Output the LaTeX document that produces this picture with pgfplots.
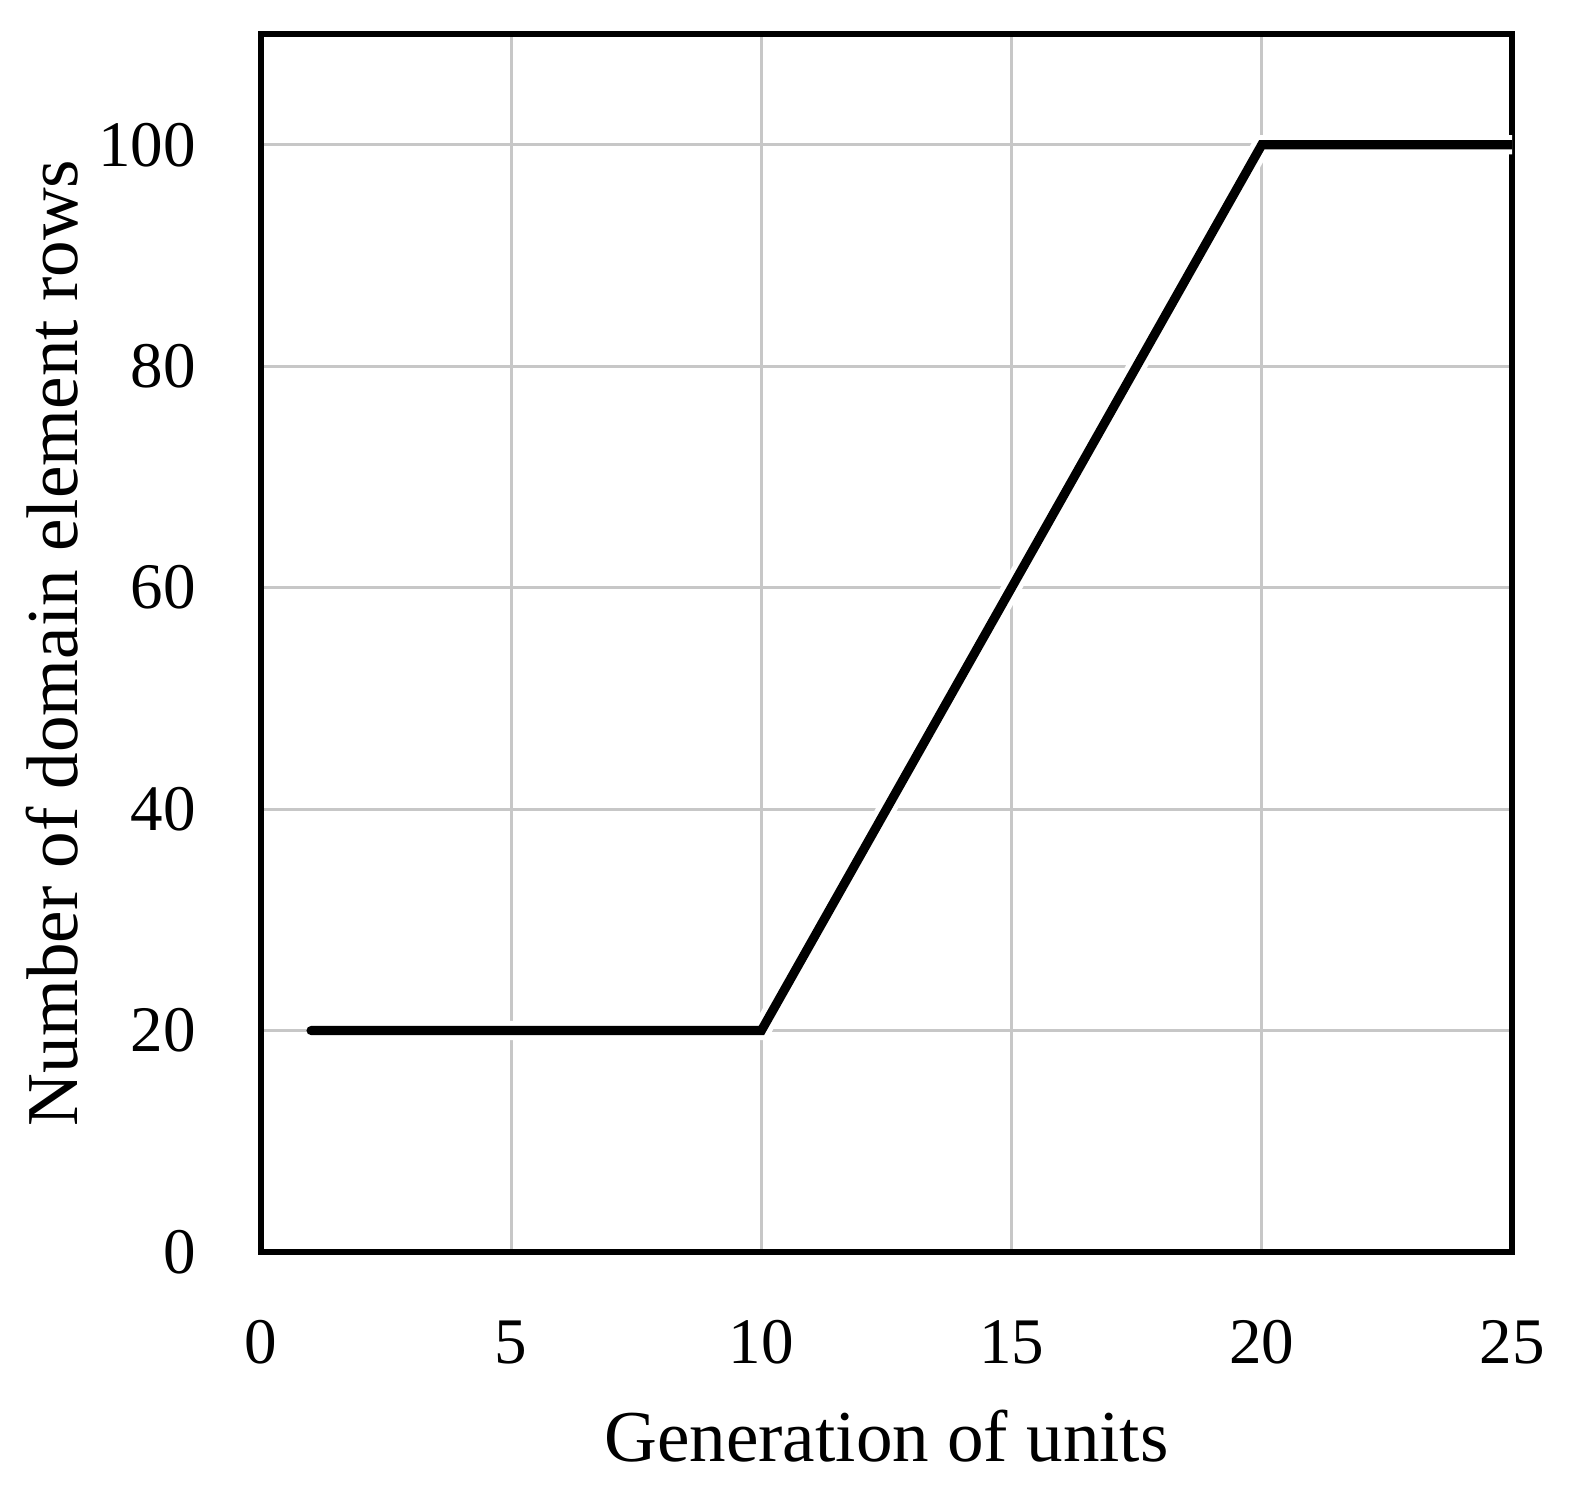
\documentclass[border=0pt]{standalone}
\usepackage{fontspec}
\setmainfont{Liberation Serif}
\usepackage{pgfplots}
\pgfplotsset{compat=1.18}

\begin{document}
\begin{tikzpicture}
  \begin{axis}[
      scale only axis,
      width=12.51cm, height=12.18cm,
      xmin=0, xmax=25, ymin=0, ymax=110,
      xtick={0,5,...,25},
      ytick={0,20,...,100},
      major tick length=0pt,
      grid=major,
      major grid style={color=black!22, line width=0.85pt},
      axis line style={line width=1.5pt},
      /pgf/number format/assume math mode=true,
      tick label style={font=\fontsize{18.5}{21}\selectfont},
      xticklabel style={yshift=-16pt},
      yticklabel style={xshift=-15pt},
      label style={font=\fontsize{20.8}{24}\selectfont},
      xlabel={Generation of units},
      ylabel={Number of domain element rows},
      xlabel style={at={(axis description cs:0.5,-0.172)}, anchor=base},
      ylabel style={at={(axis description cs:-0.147,0.5)}, anchor=base},
    ]
    % white halo under the line, as in the original
    \addplot[white, line width=5.5pt, forget plot] coordinates {
      (1,20) (10,20) (20,100) (25,100)
    };
    \addplot[black, line width=2.6pt, line cap=round] coordinates {
      (1,20) (10,20) (20,100) (25,100)
    };
    \coordinate (sw) at (rel axis cs:0,0);
    \coordinate (ne) at (rel axis cs:1,1);
  \end{axis}
  \pgfresetboundingbox
  \path[use as bounding box] ([shift={(-2.61cm,-2.39cm)}]sw) rectangle ([shift={(0.59cm,0.34cm)}]ne);
\end{tikzpicture}
\end{document}
